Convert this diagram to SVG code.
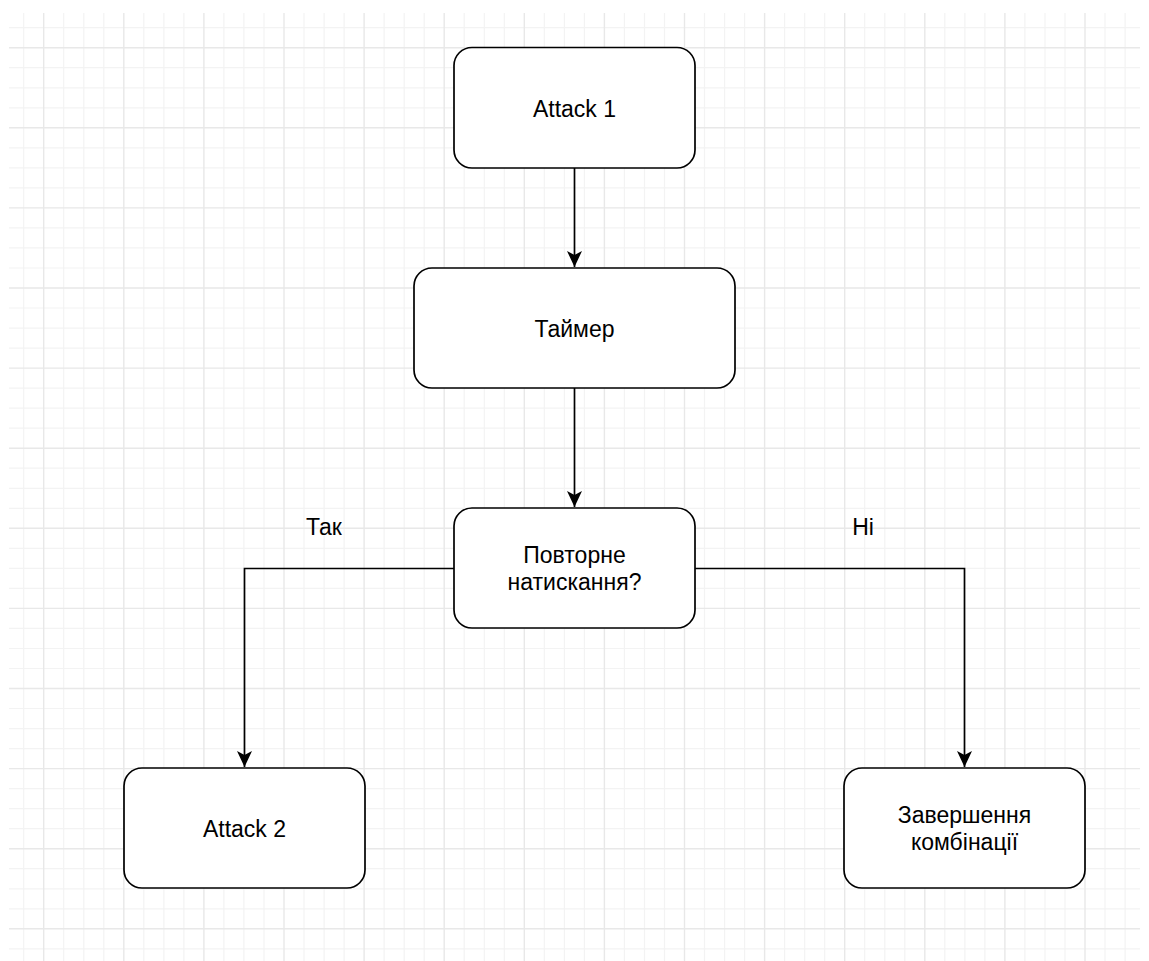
<svg xmlns="http://www.w3.org/2000/svg" width="1149" height="961" viewBox="0 0 1149 961">
  <style>
    .minor { stroke: #f3f3f3; stroke-width: 1.2; fill: none; }
    .major { stroke: #e8e8e8; stroke-width: 1.4; fill: none; }
    .box { fill: #ffffff; stroke: #000000; stroke-width: 1.7; }
    .lbl { font-family: "Liberation Sans", Arial, sans-serif; font-size: 23px; fill: #000000; text-anchor: middle; }
    .edge { fill: none; stroke: #000000; stroke-width: 1.7; }
  </style>
  <defs>
    <marker id="arrow" markerUnits="userSpaceOnUse" markerWidth="20" markerHeight="18" viewBox="-18 -9 19 18" refX="0" refY="0" orient="auto">
      <path d="M0,0 L-16,-7.5 L-12,0 L-16,7.5 Z" fill="#000000"/>
    </marker>
  </defs>

  <rect width="1149" height="961" fill="#ffffff"/>

  <!-- background grid: 20px cells, heavier line every 4 cells -->
  <g id="grid">
    <path class="minor" d="M23.7 13V961M63.7 13V961M83.8 13V961M103.8 13V961M143.8 13V961M163.9 13V961M183.9 13V961M223.9 13V961M243.9 13V961M264 13V961M304 13V961M324.1 13V961M344.1 13V961M384.1 13V961M404.2 13V961M424.2 13V961M464.2 13V961M484.3 13V961M504.3 13V961M544.3 13V961M564.4 13V961M584.4 13V961M624.4 13V961M644.5 13V961M664.5 13V961M704.5 13V961M724.6 13V961M744.6 13V961M784.6 13V961M804.7 13V961M824.7 13V961M864.7 13V961M884.8 13V961M904.8 13V961M944.8 13V961M964.9 13V961M984.9 13V961M1024.9 13V961M1045 13V961M1065 13V961M1105 13V961M1125.1 13V961
      M9 27.7H1140M9 67.7H1140M9 87.8H1140M9 107.8H1140M9 147.8H1140M9 167.9H1140M9 187.9H1140M9 227.9H1140M9 247.9H1140M9 268H1140M9 308H1140M9 328.1H1140M9 348.1H1140M9 388.1H1140M9 408.2H1140M9 428.2H1140M9 468.2H1140M9 488.3H1140M9 508.3H1140M9 548.3H1140M9 568.4H1140M9 588.4H1140M9 628.4H1140M9 648.5H1140M9 668.5H1140M9 708.5H1140M9 728.6H1140M9 748.6H1140M9 788.6H1140M9 808.7H1140M9 828.7H1140M9 868.7H1140M9 888.8H1140M9 908.8H1140M9 948.8H1140"/>
    <path class="major" d="M43.7 13V961M123.8 13V961M203.9 13V961M284 13V961M364.1 13V961M444.2 13V961M524.3 13V961M604.4 13V961M684.5 13V961M764.6 13V961M844.7 13V961M924.8 13V961M1004.9 13V961M1085 13V961
      M9 47.7H1140M9 127.8H1140M9 207.9H1140M9 288H1140M9 368.1H1140M9 448.2H1140M9 528.3H1140M9 608.4H1140M9 688.5H1140M9 768.6H1140M9 848.7H1140M9 928.8H1140"/>
  </g>

  <!-- connectors -->
  <g id="edges">
    <path class="edge" d="M574.5 168V267" marker-end="url(#arrow)"/>
    <path class="edge" d="M574.5 388V507" marker-end="url(#arrow)"/>
    <path class="edge" d="M454 568.5H244.5V767" marker-end="url(#arrow)"/>
    <path class="edge" d="M695 568.5H964.5V767" marker-end="url(#arrow)"/>
    <text class="lbl" x="324" y="535">Так</text>
    <text class="lbl" x="863" y="535">Ні</text>
  </g>

  <g id="attack1">
    <rect class="box" x="454" y="47.5" width="241" height="120.5" rx="18" ry="18"/>
    <text class="lbl" x="574.5" y="116.5">Attack 1</text>
  </g>

  <g id="timer">
    <rect class="box" x="414" y="268" width="321" height="120" rx="18" ry="18"/>
    <text class="lbl" x="574.5" y="336.5">Таймер</text>
  </g>

  <g id="repeat-press">
    <rect class="box" x="454" y="508" width="241" height="120" rx="18" ry="18"/>
    <text class="lbl" x="574.5" y="563">Повторне</text>
    <text class="lbl" x="574.5" y="590">натискання?</text>
  </g>

  <g id="attack2">
    <rect class="box" x="124" y="768" width="241" height="120" rx="18" ry="18"/>
    <text class="lbl" x="244.5" y="836.5">Attack 2</text>
  </g>

  <g id="combo-end">
    <rect class="box" x="844" y="768" width="241" height="120" rx="18" ry="18"/>
    <text class="lbl" x="964.5" y="823">Завершення</text>
    <text class="lbl" x="964.5" y="850">комбінації</text>
  </g>
</svg>
